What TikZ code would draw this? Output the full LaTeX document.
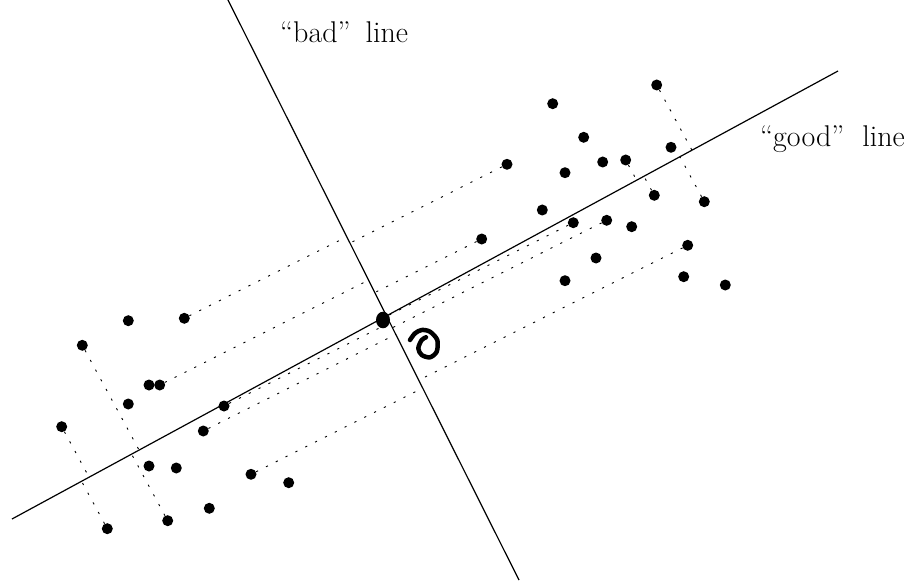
\documentclass[tikz,border=0pt]{standalone}
\usetikzlibrary{calc}
\begin{document}
\begin{tikzpicture}[x=1pt,y=-1pt,
  dot/.style={circle,fill=black,inner sep=0pt,minimum size=11pt},
  proj/.style={line width=0.9pt,dash pattern=on 2.2pt off 8.8pt},
  axisline/.style={line width=1.2pt},
  lbl/.style={anchor=base west,inner sep=0pt,font=\fontsize{30}{36}\selectfont}]
\useasboundingbox (0,0) rectangle (911,583);
\coordinate (G1) at (12,519);
\coordinate (G2) at (838,71);
\coordinate (B1) at (228,0);
\coordinate (B2) at (519,580);
\draw[axisline] (G1) -- (G2);
\draw[axisline] (B1) -- (B2);
\foreach \n/\x/\y in {
  1/656.7/85, 2/552.7/103.7, 3/583.7/137.3, 4/671/147.3, 5/507/164.3,
  6/565/172.7, 7/602.7/162, 8/625.7/160, 9/654.3/195.3, 10/704.3/201.7,
  11/542.3/210, 12/573.3/222.7, 13/606.7/220.3, 14/631.7/226.7, 15/481.7/239,
  16/687.7/245.3, 17/596/258, 18/565/280.7, 19/683.7/276.7, 20/725.3/285,
  21/128.3/320.7, 22/184.3/318.3, 24/82.3/345.3, 25/149/385, 26/159.7/385,
  27/128.3/404, 28/224/406, 29/203.3/431, 30/61.7/426.7, 31/149/466,
  32/176.3/468, 33/251/474.3, 34/288.7/482.7, 35/209.3/508.3, 36/107.3/528.7,
  37/167.7/520.7}
  \node[dot] (d\n) at (\x,\y) {};
\foreach \n in {1,10,8,9,24,37,30,36}
  \draw[proj] (d\n) -- ($(G1)!(d\n)!(G2)$);
\foreach \n in {5,22,15,26,12,28,13,29,16,33}
  \draw[proj] (d\n) -- ($(B1)!(d\n)!(B2)$);
\fill (383,320) ellipse[x radius=7pt,y radius=8.3pt];
\draw[line width=4.5pt,line cap=round,line join=round]
  plot[smooth] coordinates {(410,340) (415,333.3) (421.7,330) (430,331.7)
  (437.3,340) (436.7,351.7) (430,357.3) (421.7,355) (418.3,348.3)
  (421.7,340) (426,337.3)};
\node[lbl] (bad) at (280,43) {``bad''\hspace{15pt}line};
\node[lbl] (good) at (760,147) {``good''\hspace{18pt}line};
\end{tikzpicture}
\end{document}
